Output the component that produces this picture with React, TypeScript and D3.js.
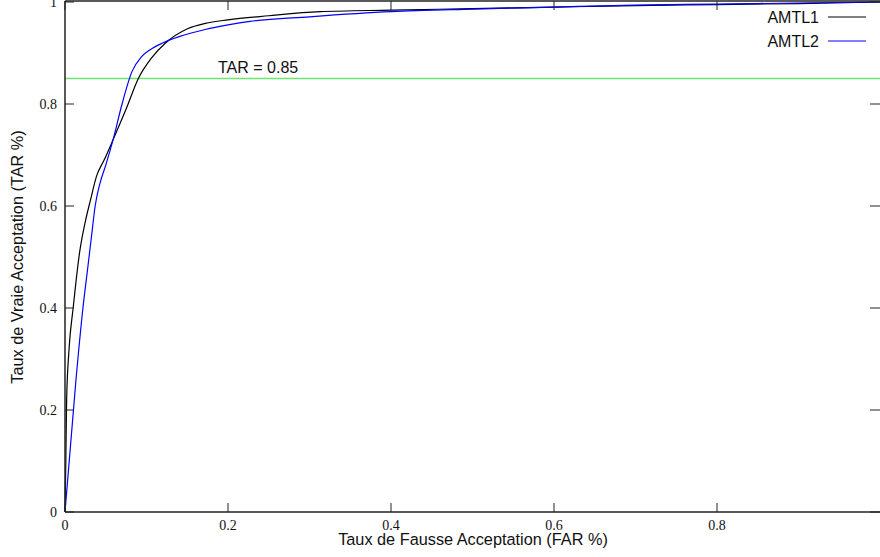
import React from "react";
import * as d3 from "d3";

const W = 880;
const H = 557;

const amtl1FAR = [0, 0.001, 0.002, 0.005, 0.01, 0.018, 0.025, 0.031, 0.039, 0.048, 0.059, 0.075, 0.09, 0.106, 0.123, 0.151, 0.172, 0.2, 0.25, 0.313, 0.4, 0.5, 0.6, 0.7, 0.8, 0.9, 1.0];
const amtl1TAR = [0, 0.1, 0.22, 0.32, 0.4, 0.51, 0.57, 0.61, 0.66, 0.69, 0.73, 0.79, 0.85, 0.89, 0.919, 0.948, 0.958, 0.965, 0.973, 0.981, 0.984, 0.987, 0.99, 0.993, 0.995, 0.997, 1.0];

const amtl2FAR = [0, 0.0135, 0.022, 0.028, 0.033, 0.037, 0.043, 0.05, 0.059, 0.07, 0.082, 0.094, 0.105, 0.119, 0.14, 0.172, 0.2, 0.227, 0.3, 0.4, 0.5, 0.6, 0.7, 0.8, 0.9, 1.0];
const amtl2TAR = [0, 0.26, 0.4, 0.48, 0.547, 0.6, 0.645, 0.68, 0.73, 0.8, 0.863, 0.893, 0.907, 0.919, 0.932, 0.946, 0.955, 0.962, 0.971, 0.981, 0.986, 0.99, 0.994, 0.996, 0.998, 1.0];

const xTicks = [0, 0.2, 0.4, 0.6, 0.8];
const yTicks = [0, 0.2, 0.4, 0.6, 0.8, 1];
const threshold = 0.85;

export default function App() {
  const x = d3.scaleLinear().domain([0, 1]).range([65, 880]);
  const y = d3.scaleLinear().domain([0, 1]).range([512, 2]);
  const line = d3
    .line<[number, number]>()
    .x((d) => x(d[0]))
    .y((d) => y(d[1]))
    .curve(d3.curveMonotoneX);
  const s1 = amtl1FAR.map((f, i) => [f, amtl1TAR[i]] as [number, number]);
  const s2 = amtl2FAR.map((f, i) => [f, amtl2TAR[i]] as [number, number]);
  const serif = "'Liberation Serif', 'Times New Roman', serif";
  const sans = "'Liberation Sans', Arial, sans-serif";
  const axisColor = "#222";

  return (
    <svg
      width={W}
      height={H}
      style={{ position: "absolute", left: 0, top: 0, background: "#fff" }}
    >
      <rect x={0} y={0} width={W} height={H} fill="#fff" />
      {/* threshold line */}
      <line
        x1={x(0)}
        x2={x(1)}
        y1={y(threshold)}
        y2={y(threshold)}
        stroke="#6ee66e"
        strokeWidth={1.6}
      />
      <text x={218} y={y(threshold) - 6} fontFamily={sans} fontSize={16} fill="#111">
        TAR = 0.85
      </text>
      {/* curves */}
      <path d={line(s1) || ""} fill="none" stroke="#000" strokeWidth={1.2} />
      <path d={line(s2) || ""} fill="none" stroke="#0000ff" strokeWidth={1.2} />
      {/* frame: left, bottom, top (right edge lies at the canvas border) */}
      <line x1={x(0)} x2={x(0)} y1={y(1) - 1} y2={y(0)} stroke={axisColor} strokeWidth={1.5} />
      <line x1={x(0)} x2={x(1) + 2} y1={y(0)} y2={y(0)} stroke={axisColor} strokeWidth={1.5} />
      <line x1={x(0)} x2={x(1) + 2} y1={y(1) - 1} y2={y(1) - 1} stroke={axisColor} strokeWidth={1.5} />
      {/* x ticks */}
      {xTicks.map((t) => (
        <g key={"x" + t}>
          <line x1={x(t)} x2={x(t)} y1={y(0)} y2={y(0) - 9} stroke={axisColor} strokeWidth={1} />
          <line x1={x(t)} x2={x(t)} y1={y(1) - 1} y2={y(1) + 8} stroke={axisColor} strokeWidth={1} />
          <text x={x(t)} y={530} textAnchor="middle" fontFamily={serif} fontSize={14} fill="#111">
            {String(t)}
          </text>
        </g>
      ))}
      {/* y ticks */}
      {yTicks.map((t) => (
        <g key={"y" + t}>
          <line x1={x(0)} x2={x(0) + 9} y1={y(t)} y2={y(t)} stroke={axisColor} strokeWidth={1} />
          <line x1={x(1) - 10} x2={x(1)} y1={y(t)} y2={y(t)} stroke={axisColor} strokeWidth={1} />
          <text x={57} y={y(t) + 5} textAnchor="end" fontFamily={serif} fontSize={14} fill="#111">
            {String(t)}
          </text>
        </g>
      ))}
      {/* axis titles */}
      <text x={473} y={545} textAnchor="middle" fontFamily={sans} fontSize={16.3} fill="#111">
        Taux de Fausse Acceptation (FAR %)
      </text>
      <text
        transform={`translate(23,257) rotate(-90)`}
        textAnchor="middle"
        fontFamily={sans}
        fontSize={16.3}
        fill="#111"
      >
        Taux de Vraie Acceptation (TAR %)
      </text>
      {/* legend */}
      <text x={819} y={23} textAnchor="end" fontFamily={sans} fontSize={16} fill="#111">
        AMTL1
      </text>
      <line x1={828} x2={866} y1={17} y2={17} stroke="#000" strokeWidth={1.2} />
      <text x={819} y={47} textAnchor="end" fontFamily={sans} fontSize={16} fill="#111">
        AMTL2
      </text>
      <line x1={828} x2={866} y1={41} y2={41} stroke="#0000ff" strokeWidth={1.2} />
    </svg>
  );
}
